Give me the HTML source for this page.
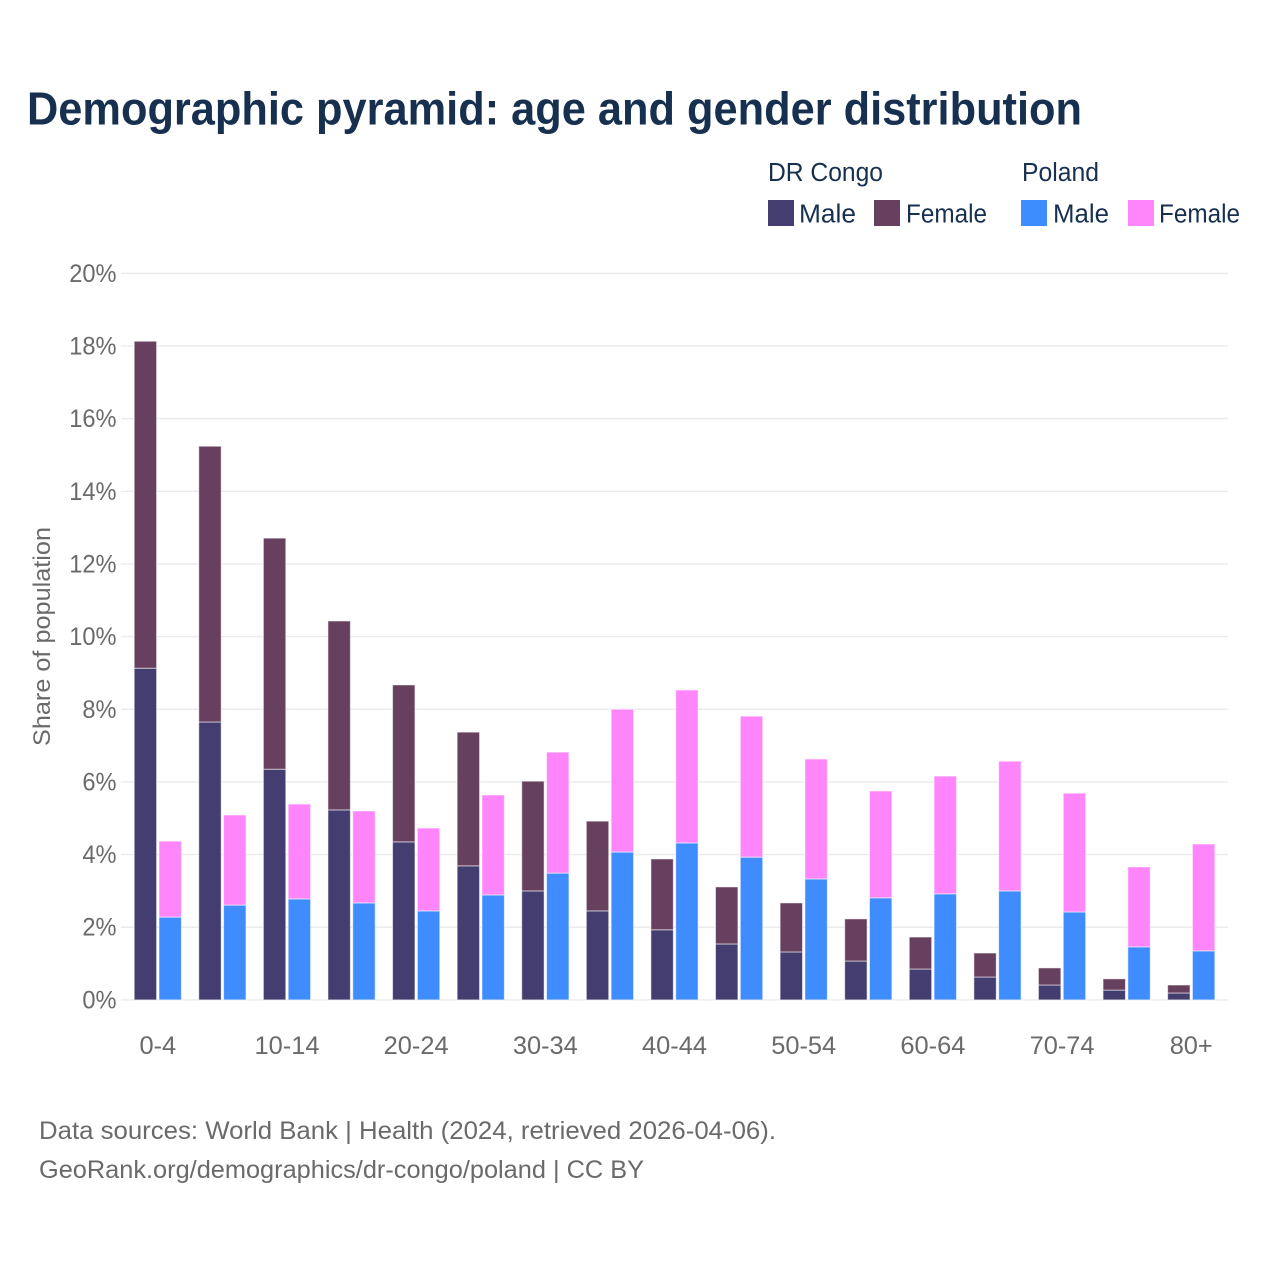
<!DOCTYPE html>
<html lang="en">
<head>
<meta charset="utf-8">
<title>Demographic pyramid: age and gender distribution</title>
<style>
  html, body { margin: 0; padding: 0; background: #ffffff; }
  svg { display: block; font-family: "Liberation Sans", sans-serif; }
  .legend-text { font-size: 25.5px; fill: #17304f; }
  .foot-text { font-size: 25px; fill: #6a6a6a; }
  .tick-text { font-size: 25.4px; fill: #6a6a6a; }
</style>
</head>
<body>
<svg id="chart" xmlns="http://www.w3.org/2000/svg" width="1280" height="1280" viewBox="0 0 1280 1280">
  <rect x="0" y="0" width="1280" height="1280" fill="#ffffff"/>
  <text x="27" y="124.5" font-size="46" font-weight="700" fill="#17304f" textLength="1055" lengthAdjust="spacingAndGlyphs">Demographic pyramid: age and gender distribution</text>

  <g>
    <text class="legend-text" x="768" y="181" textLength="115" lengthAdjust="spacingAndGlyphs">DR Congo</text>
    <text class="legend-text" x="1022" y="181" textLength="77" lengthAdjust="spacingAndGlyphs">Poland</text>
    <rect x="768" y="200" width="26" height="26" fill="#433e6f"/>
    <text class="legend-text" x="799" y="222.5" textLength="57" lengthAdjust="spacingAndGlyphs">Male</text>
    <rect x="874" y="200" width="26" height="26" fill="#68405f"/>
    <text class="legend-text" x="906" y="222.5" textLength="81" lengthAdjust="spacingAndGlyphs">Female</text>
    <rect x="1021" y="200" width="26" height="26" fill="#3f8cff"/>
    <text class="legend-text" x="1053" y="222.5" textLength="56" lengthAdjust="spacingAndGlyphs">Male</text>
    <rect x="1128" y="200" width="26" height="26" fill="#ff85fb"/>
    <text class="legend-text" x="1159" y="222.5" textLength="81" lengthAdjust="spacingAndGlyphs">Female</text>
  </g>

  <g id="grid"></g>
  <g id="y-ticks"></g>
  <g id="bars"></g>
  <g id="x-ticks"></g>

  <text transform="translate(50 636.5) rotate(-90)" text-anchor="middle" font-size="24" fill="#6a6a6a" textLength="219" lengthAdjust="spacingAndGlyphs">Share of population</text>

  <text class="foot-text" x="39" y="1139" textLength="737" lengthAdjust="spacingAndGlyphs">Data sources: World Bank | Health (2024, retrieved 2026-04-06).</text>
  <text class="foot-text" x="39" y="1178" textLength="605" lengthAdjust="spacingAndGlyphs">GeoRank.org/demographics/dr-congo/poland | CC BY</text>
</svg>

<script>
const categories = ['0-4','5-9','10-14','15-19','20-24','25-29','30-34','35-39','40-44','45-49','50-54','55-59','60-64','65-69','70-74','75-79','80+'];
const xTickLabels = ['0-4','10-14','20-24','30-34','40-44','50-54','60-64','70-74','80+'];
const yTickValues = [0,2,4,6,8,10,12,14,16,18,20];
const congoMale = [9.13,7.65,6.35,5.23,4.35,3.69,3.00,2.45,1.93,1.54,1.32,1.07,0.85,0.63,0.41,0.27,0.19];
const congoFemale = [9.00,7.59,6.36,5.20,4.32,3.68,3.02,2.47,1.95,1.57,1.35,1.16,0.88,0.66,0.47,0.31,0.22];
const polandMale = [2.28,2.61,2.78,2.67,2.45,2.89,3.49,4.07,4.32,3.93,3.33,2.81,2.92,3.00,2.42,1.46,1.35];
const polandFemale = [2.09,2.48,2.61,2.53,2.28,2.75,3.33,3.93,4.21,3.88,3.30,2.94,3.24,3.57,3.27,2.20,2.94];

const NS = 'http://www.w3.org/2000/svg';
const yZero = 999.9;
const yPerUnit = 36.33;
const yScale = function (v) { return yZero - v * yPerUnit; };
const xCenter = function (i) { return 157.8 + i * 64.59; };
const barWidth = 22.4;

const gridGroup = document.getElementById('grid');
const yTickGroup = document.getElementById('y-ticks');
const xTickGroup = document.getElementById('x-ticks');
const barGroup = document.getElementById('bars');

yTickValues.forEach(function (v) {
  const line = document.createElementNS(NS, 'line');
  
  
  line.setAttribute('x1', 121);
  line.setAttribute('x2', 1228);
  line.setAttribute('y1', yScale(v));
  line.setAttribute('y2', yScale(v));
  line.setAttribute('stroke', '#ebebeb');
  line.setAttribute('stroke-width', 1.4);
  gridGroup.appendChild(line);

  const label = document.createElementNS(NS, 'text');
  
  
  label.setAttribute('class', 'tick-text');
  label.setAttribute('x', 116.5);
  label.setAttribute('y', yScale(v) + 8.5);
  label.setAttribute('text-anchor', 'end');
  label.textContent = v + '%';
  yTickGroup.appendChild(label);
  label.setAttribute('textLength', label.getComputedTextLength() * 0.93);
  label.setAttribute('lengthAdjust', 'spacingAndGlyphs');
});

function addSegment(name, x, bottomValue, value, color) {
  const rect = document.createElementNS(NS, 'rect');
  
  
  rect.setAttribute('x', x);
  rect.setAttribute('y', yScale(bottomValue + value));
  rect.setAttribute('width', barWidth);
  rect.setAttribute('height', value * yPerUnit);
  rect.setAttribute('fill', color);
  rect.setAttribute('stroke', '#ffffff');
  rect.setAttribute('stroke-opacity', '0.55');
  rect.setAttribute('stroke-width', '1');
  barGroup.appendChild(rect);
}

categories.forEach(function (cat, i) {
  const c = xCenter(i);
  addSegment('bar-dr-congo-male-' + cat, c - 23.6, 0, congoMale[i], '#433e6f');
  addSegment('bar-dr-congo-female-' + cat, c - 23.6, congoMale[i], congoFemale[i], '#68405f');
  addSegment('bar-poland-male-' + cat, c + 1.2, 0, polandMale[i], '#3f8cff');
  addSegment('bar-poland-female-' + cat, c + 1.2, polandMale[i], polandFemale[i], '#ff85fb');

  if (xTickLabels.indexOf(cat) !== -1) {
    const label = document.createElementNS(NS, 'text');
    
    
    label.setAttribute('class', 'tick-text');
    label.setAttribute('x', c);
    label.setAttribute('y', 1054);
    label.setAttribute('text-anchor', 'middle');
    label.textContent = cat;
    xTickGroup.appendChild(label);
  }
});
</script>
</body>
</html>
